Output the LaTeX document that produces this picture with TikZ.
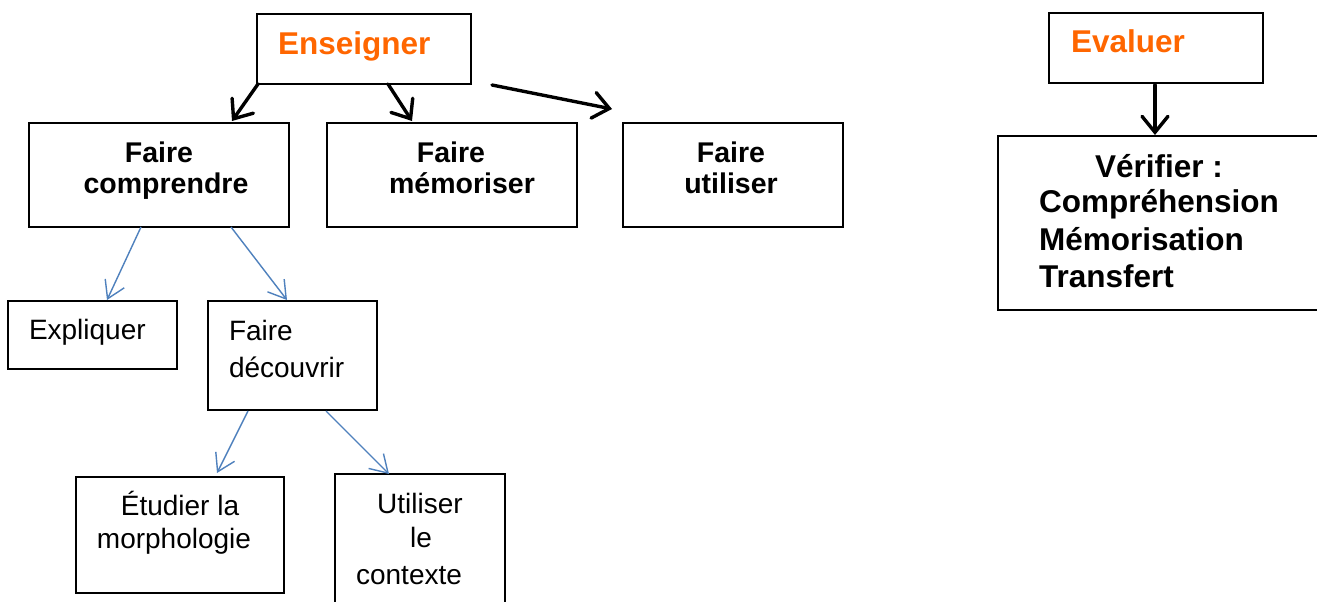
\documentclass[tikz,border=0pt]{standalone}
\usepackage{fontspec}
\setmainfont{Liberation Sans}
\usetikzlibrary{arrows.meta,calc}
\definecolor{titleorange}{HTML}{FF6600}
\definecolor{linkblue}{HTML}{4F81BD}
\tikzset{
  box/.style={draw=black, line width=2pt, rectangle, inner sep=0pt, outer sep=0pt, anchor=north west},
  lbl/.style={inner sep=0pt, outer sep=0pt, anchor=base},
  lblw/.style={inner sep=0pt, outer sep=0pt, anchor=base west},
  head/.style={font=\fontsize{31.5}{36}\selectfont\bfseries, text=titleorange},
  boldtxt/.style={font=\fontsize{28.5}{33}\selectfont\bfseries},
  bigbold/.style={font=\fontsize{31.5}{36}\selectfont\bfseries},
  plain/.style={font=\fontsize{28}{33}\selectfont},
  thickarrow/.style={draw=black, line width=3.4pt, line cap=round,
    -{Straight Barb[length=16pt, width=26pt, line cap=round]}},
  thinarrow/.style={draw=linkblue, line width=1.4pt,
    -{Straight Barb[length=17pt, width=21pt]}}
}
\begin{document}
\begin{tikzpicture}[x=1pt, y=-1pt]
  \useasboundingbox (0,0) rectangle (1317,602);
  \clip (0,0) rectangle (1317,602);
  \fill[white] (0,0) rectangle (1317,602);

  % boxes
  \node[box, minimum width=214, minimum height=70] (ens) at (257,14) {};
  \node[box, minimum width=260, minimum height=104] (fc) at (29,123) {};
  \node[box, minimum width=250, minimum height=104] (fm) at (327,123) {};
  \node[box, minimum width=220, minimum height=104] (fu) at (623,123) {};
  \node[box, minimum width=169, minimum height=68] (expl) at (8,301) {};
  \node[box, minimum width=169, minimum height=109] (fd) at (208,301) {};
  \node[box, minimum width=208, minimum height=116] (morph) at (76,477) {};
  \node[box, minimum width=170, minimum height=160] (ctx) at (335,474) {};
  \node[box, minimum width=214, minimum height=70] (eval) at (1049,13) {};
  \node[box, minimum width=340, minimum height=174] (verif) at (998,136) {};

  % texts
  \node[lblw, head] (tEns) at (278,55) {Enseigner};
  \node[lblw, head] (tEval) at (1071,53) {Evaluer};

  \node[lbl, boldtxt] (tfc1) at (159,162) {Faire};
  \node[lbl, boldtxt] (tfc2) at (166,193) {comprendre};
  \node[lbl, boldtxt] (tfm1) at (451,162) {Faire};
  \node[lbl, boldtxt] (tfm2) at (462,193) {mémoriser};
  \node[lbl, boldtxt] (tfu1) at (731,162) {Faire};
  \node[lbl, boldtxt] (tfu2) at (731,193) {utiliser};

  \node[lbl, bigbold] (tv0) at (1159,177) {Vérifier :};
  \node[lblw, bigbold] (tv1) at (1039,212) {Compréhension};
  \node[lblw, bigbold] (tv2) at (1039,250) {Mémorisation};
  \node[lblw, bigbold] (tv3) at (1039,287) {Transfert};

  \node[lblw, plain] (tex) at (29,339) {Expliquer};
  \node[lblw, plain] (tfd1) at (229,340) {Faire};
  \node[lblw, plain] (tfd2) at (229,377) {découvrir};
  \node[lbl, plain] (tmo1) at (180,515) {Étudier la};
  \node[lbl, plain] (tmo2) at (174,548) {morphologie};
  \node[lbl, plain] (tct1) at (420,513) {Utiliser};
  \node[lbl, plain] (tct2) at (421,547) {le};
  \node[lbl, plain] (tct3) at (409,584) {contexte};

  % connectors from Enseigner and Evaluer
  \draw[thickarrow] ($(ens.south west)+(1,0)$) -- ($(fc.north west)+(203,-2)$);
  \draw[thickarrow] ($(ens.south west)+(131,0)$) -- ($(fm.north west)+(85,-2)$);
  \draw[thickarrow] ($(ens.south east)+(21,1)$) -- ($(fu.north west)+(-11,-14)$);
  \draw[thickarrow] ($(eval.south west)+(106,2)$) -- ($(verif.north west)+(157,-1)$);

  % connectors below Faire comprendre and Faire découvrir
  \draw[thinarrow] ($(fc.south west)+(112,0)$) -- ($(expl.north west)+(99,-1)$);
  \draw[thinarrow] ($(fc.south west)+(202,0)$) -- ($(fd.north west)+(79,-1)$);
  \draw[thinarrow] ($(fd.south west)+(40,1)$) -- ($(morph.north west)+(141,-4)$);
  \draw[thinarrow] ($(fd.south west)+(118,1)$) -- ($(ctx.north west)+(54,0)$);
\end{tikzpicture}
\end{document}
